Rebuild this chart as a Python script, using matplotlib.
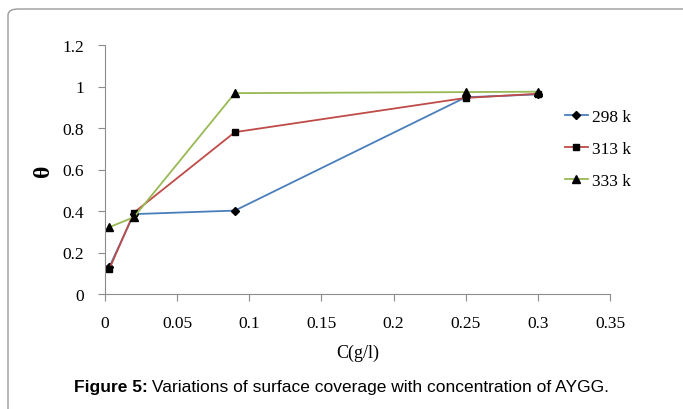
import matplotlib
matplotlib.use('Agg')
import matplotlib.pyplot as plt
from matplotlib.patches import FancyBboxPatch

# concentration (g/l) and surface coverage per temperature
conc = [0.003, 0.02, 0.09, 0.25, 0.3]
theta_298 = [0.13, 0.385, 0.402, 0.948, 0.962]
theta_313 = [0.12, 0.392, 0.78, 0.945, 0.965]
theta_333 = [0.322, 0.37, 0.968, 0.973, 0.975]
labels = ['298 k', '313 k', '333 k']

serif = ['Liberation Serif', 'DejaVu Serif']
sans = ['Liberation Sans', 'DejaVu Sans']

fig = plt.figure(figsize=(6.83, 4.1), dpi=100)
# rounded frame around the figure
fig.patches.append(FancyBboxPatch((8 / 683, -0.05), 700 / 683, 1 - 10 / 410 + 0.05,
                                  boxstyle='round,pad=0,rounding_size=0.015',
                                  transform=fig.transFigure, fill=False,
                                  edgecolor='#9a9a9a', linewidth=1.0))

ax = fig.add_axes([105 / 683, 1 - 295 / 410, 505 / 683, 249 / 410])
ax.plot(conc, theta_298, color='#4a7ebb', marker='D', markersize=4.5,
        markerfacecolor='black', markeredgecolor='black', linewidth=1.3, label=labels[0])
ax.plot(conc, theta_313, color='#be4b48', marker='s', markersize=4.5,
        markerfacecolor='black', markeredgecolor='black', linewidth=1.3, label=labels[1])
ax.plot(conc, theta_333, color='#98b954', marker='^', markersize=6,
        markerfacecolor='black', markeredgecolor='black', linewidth=1.3, label=labels[2])

ax.set_xlim(0, 0.35)
ax.set_ylim(0, 1.2)
ax.set_xticks([0, 0.05, 0.1, 0.15, 0.2, 0.25, 0.3, 0.35])
ax.set_xticklabels(['0', '0.05', '0.1', '0.15', '0.2', '0.25', '0.3', '0.35'])
ax.set_yticks([0, 0.2, 0.4, 0.6, 0.8, 1, 1.2])
ax.set_yticklabels(['0', '0.2', '0.4', '0.6', '0.8', '1', '1.2'])
for s in ['top', 'right']:
    ax.spines[s].set_visible(False)
for s in ['left', 'bottom']:
    ax.spines[s].set_color('#8c8c8c')
ax.tick_params(direction='out', color='#8c8c8c', length=5, labelsize=12.5, pad=10)
for t in ax.get_xticklabels() + ax.get_yticklabels():
    t.set_family(serif)

ax.set_xlabel('C(g/l)', family=serif, fontsize=13, labelpad=9)
ax.set_ylabel('θ', family=serif, fontsize=17, fontweight='bold', labelpad=6)

ax.legend(loc='upper left', bbox_to_anchor=(0.88, 0.805), frameon=False,
          prop={'family': serif, 'size': 12.5}, handlelength=1.3,
          handletextpad=0.25, labelspacing=0.9)

# caption: bold "Figure 5:" followed by regular text, centred as a whole
y_cap = 1 - 388 / 410
cap = fig.text(0, y_cap, 'Figure 5:', family=sans, fontweight='bold',
               fontsize=12.5, ha='left', va='center')
rest = fig.text(0, y_cap, ' Variations of surface coverage with concentration of AYGG.',
                family=sans, fontsize=12.5, ha='left', va='center')
fig.canvas.draw()
w1 = cap.get_window_extent().width
w2 = rest.get_window_extent().width
x0 = (683 - w1 - w2) / 2
cap.set_x(x0 / 683)
rest.set_x((x0 + w1) / 683)

fig.savefig('out.png', dpi=100)
